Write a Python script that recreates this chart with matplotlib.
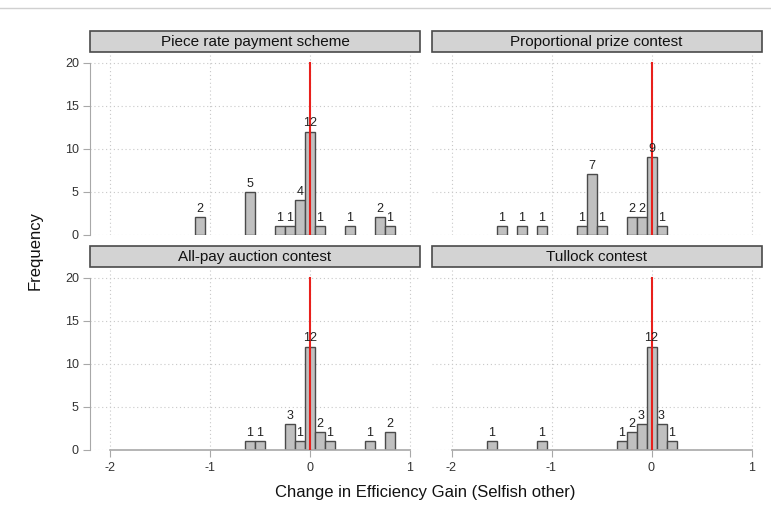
import matplotlib
matplotlib.use("Agg")
import matplotlib.pyplot as plt
from matplotlib.patches import Rectangle
from matplotlib.lines import Line2D

plt.rcParams['font.family'] = ['Liberation Sans', 'DejaVu Sans']
plt.rcParams['axes.unicode_minus'] = False

# histogram bins (centre of each 0.1-wide bin) and their counts
piece_x = [-1.1, -0.6, -0.3, -0.2, -0.1, 0.0, 0.1, 0.4, 0.7, 0.8]
piece_n = [2, 5, 1, 1, 4, 12, 1, 1, 2, 1]
prop_x = [-1.5, -1.3, -1.1, -0.7, -0.6, -0.5, -0.2, -0.1, 0.0, 0.1]
prop_n = [1, 1, 1, 1, 7, 1, 2, 2, 9, 1]
allpay_x = [-0.6, -0.5, -0.2, -0.1, 0.0, 0.1, 0.2, 0.6, 0.8]
allpay_n = [1, 1, 3, 1, 12, 2, 1, 1, 2]
tullock_x = [-1.6, -1.1, -0.3, -0.2, -0.1, 0.0, 0.1, 0.2]
tullock_n = [1, 1, 1, 2, 3, 12, 3, 1]

titles = ["Piece rate payment scheme", "Proportional prize contest",
          "All-pay auction contest", "Tullock contest"]
panels = [(piece_x, piece_n), (prop_x, prop_n),
          (allpay_x, allpay_n), (tullock_x, tullock_n)]
xticks = [-2, -1, 0, 1]
yticks = [0, 5, 10, 15, 20]
bin_w = 0.1

W, H = 771, 508
fig = plt.figure(figsize=(W / 100, H / 100), dpi=100)

# thin rule across the top
fig.add_artist(Line2D([0, 1], [1 - 7.5 / H, 1 - 7.5 / H], color="#d0d0d0", lw=1))

# panel boxes in pixels: left, top, width, height
boxes = [(90, 52, 330, 182.5), (431.5, 52, 330, 182.5),
         (90, 267, 330, 182.5), (431.5, 267, 330, 182.5)]
strip_h = 20.5

axis_grey = "#a8a8a8"
for i, (title, (xs, ns), (l, t, w, h)) in enumerate(zip(titles, panels, boxes)):
    ax = fig.add_axes([l / W, 1 - (t + h) / H, w / W, h / H])
    ax.set_xlim(-2.2, 1.1)
    ax.set_ylim(0, 21.27)
    ax.set_facecolor("white")

    ax.bar(xs, ns, width=bin_w, color="#c0c0c0", edgecolor="#4a4a4a",
           linewidth=1.0, zorder=2)
    for x, n in zip(xs, ns):
        ax.annotate(str(n), (x, n), xytext=(0, 1.5), textcoords="offset points",
                    ha="center", va="bottom", fontsize=9, color="#222222", zorder=4)
    ax.plot([0, 0], [0, 20], color="#e8201c", lw=1.5, zorder=3)

    ax.set_xticks(xticks)
    ax.set_yticks(yticks)
    ax.grid(True, linestyle=(0, (1, 2.5)), color="#c8c8c8", lw=0.8, zorder=0)
    ax.set_axisbelow(True)
    for s in ax.spines.values():
        s.set_visible(False)

    left_col = i % 2 == 0
    bottom_row = i >= 2
    if left_col:
        ax.spines["left"].set_visible(True)
        ax.spines["left"].set_bounds(0, 20)
        ax.spines["left"].set_color(axis_grey)
        ax.tick_params(axis="y", length=5, color=axis_grey, labelsize=9,
                       labelcolor="#333333", pad=3)
    else:
        ax.tick_params(axis="y", left=False, labelleft=False)
    if bottom_row:
        ax.spines["bottom"].set_visible(True)
        ax.spines["bottom"].set_bounds(-2, 1)
        ax.spines["bottom"].set_color(axis_grey)
        ax.spines["bottom"].set_linewidth(1.2)
        ax.tick_params(axis="x", length=5, color=axis_grey, labelsize=9,
                       labelcolor="#333333", pad=4)
    else:
        ax.tick_params(axis="x", bottom=False, labelbottom=False)

    # facet header
    ax.add_patch(Rectangle((0, 1), 1, strip_h / h, transform=ax.transAxes,
                           facecolor="#d3d3d3", edgecolor="#4a4a4a", lw=1.2,
                           clip_on=False, zorder=5))
    ax.text(0.5, 1 + strip_h / h / 2, title, transform=ax.transAxes,
            ha="center", va="center", fontsize=11, color="#111111", zorder=6)

fig.text(425 / W, 1 - 493 / H, "Change in Efficiency Gain (Selfish other)",
         ha="center", va="center", fontsize=12, color="#111111")
fig.text(35 / W, 1 - 250 / H, "Frequency", rotation=90,
         ha="center", va="center", fontsize=12, color="#111111")

fig.savefig("out.png", dpi=100)
